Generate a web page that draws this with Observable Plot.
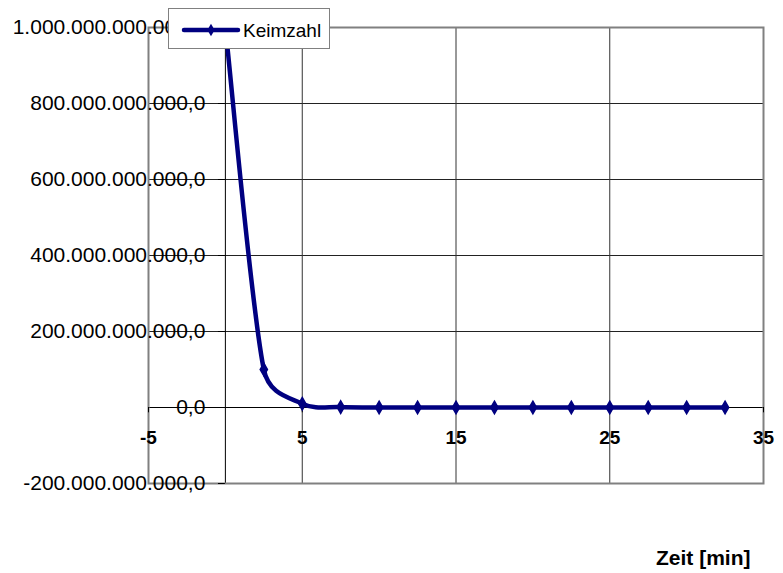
<!DOCTYPE html>
<html><head><meta charset="utf-8">
<script src="https://cdn.jsdelivr.net/npm/d3@7"></script>
<script src="https://cdn.jsdelivr.net/npm/@observablehq/plot@0.6"></script>
<style>
body{margin:0;background:#fff;font-family:Arial,"Liberation Sans",sans-serif;}
#wrap{position:relative;width:783px;height:573px;}
#legend{position:absolute;left:168px;top:8px;width:160px;height:39px;border:1px solid #808080;background:#fff;box-sizing:content-box;}
#xlabel{position:absolute;left:656px;top:546px;font-weight:bold;font-size:21px;}
</style></head>
<body><div id="wrap"><div id="chart"></div><div id="legend"></div><div id="xlabel">Zeit [min]</div></div>
<script>
const seriesName = "Keimzahl";
const zeit = [0, 2.5, 5, 7.5, 10, 12.5, 15, 17.5, 20, 22.5, 25, 27.5, 30, 32.5];
const keimzahl = [1e12, 1e11, 1e10, 1e9, 1e8, 1e7, 1e6, 1e5, 1e4, 1e3, 1e2, 1e1, 1e0, 1e-1];
const xTicks = [-5, 5, 15, 25, 35];
const xGrid = [5, 15, 25];
const yTicks = [-2e11, 0, 2e11, 4e11, 6e11, 8e11, 1e12];
const yGrid = [2e11, 4e11, 6e11, 8e11];

const data = zeit.map((t, i) => ({t, v: keimzahl[i]}));
const loc = d3.formatLocale({decimal: ",", thousands: ".", grouping: [3], currency: ["", ""], minus: "-"});
const fmt = loc.format(",.1f");
const navy = "#000080";

// Spreadsheet-style smoothed line (Bezier, tangent/6, capped at half segment)
function smoothCurve(context) {
  let pts;
  const dist = (a, b) => Math.hypot(b[0] - a[0], b[1] - a[1]);
  return {
    areaStart() {}, areaEnd() {},
    lineStart() { pts = []; },
    point(x, y) { pts.push([+x, +y]); },
    lineEnd() {
      const n = pts.length;
      if (!n) return;
      context.moveTo(pts[0][0], pts[0][1]);
      for (let i = 0; i < n - 1; i++) {
        const p0 = pts[Math.max(0, i - 1)], p1 = pts[i], p2 = pts[i + 1], p3 = pts[Math.min(n - 1, i + 2)];
        const d12 = dist(p1, p2), d02 = dist(p0, p2), d13 = dist(p1, p3);
        let f1 = 1 / 6, f2 = 1 / 6;
        if (d02 / 6 > d12 / 2) f1 = d12 / (2 * d02);
        if (d13 / 6 > d12 / 2) f2 = d12 / (2 * d13);
        const c1 = [p1[0] + (p2[0] - p0[0]) * f1, p1[1] + (p2[1] - p0[1]) * f1];
        const c2 = [p2[0] - (p3[0] - p1[0]) * f2, p2[1] - (p3[1] - p1[1]) * f2];
        context.bezierCurveTo(c1[0], c1[1], c2[0], c2[1], p2[0], p2[1]);
      }
    }
  };
}

const chart = Plot.plot({
  width: 783, height: 573,
  marginLeft: 148, marginRight: 20, marginTop: 27, marginBottom: 90,
  x: {type: "linear", domain: [-5, 35], axis: null},
  y: {type: "linear", domain: [-2e11, 1e12], axis: null},
  style: {fontFamily: "Arial, 'Liberation Sans', sans-serif", background: "#fff"},
  marks: [
    Plot.ruleY(yGrid, {stroke: "#222", strokeWidth: 1}),
    Plot.ruleX(xGrid, {stroke: "#333", strokeWidth: 1}),
    Plot.ruleX([0], {stroke: "#000", strokeWidth: 1}),
    Plot.ruleY([0], {stroke: "#000", strokeWidth: 1}),
    Plot.frame({stroke: "#808080", strokeWidth: 2}),
    Plot.ruleX(xTicks, {x: d => d, y1: 0, y2: -1.4e10, stroke: "#000"}),
    Plot.text(yTicks, {x: 0, y: d => d, text: d => fmt(d), textAnchor: "end", dx: -20, fontSize: 21, fill: "#000"}),
    Plot.ruleY(yTicks, {x1: 0, x2: -0.45, stroke: "#000"}),
    Plot.text(xTicks, {x: d => d, y: 0, text: d => String(d), dy: 30, fontSize: 19, fontWeight: "bold", fill: "#000"}),
    Plot.line(data, {x: "t", y: "v", stroke: navy, strokeWidth: 4.5, curve: smoothCurve}),
    Plot.dot(data, {x: "t", y: "v", symbol: "diamond", r: 3.8, fill: navy, stroke: navy})
  ]
});
document.getElementById("chart").appendChild(chart);

// legend
const lg = d3.select("#legend").append("svg").attr("width", 160).attr("height", 39);
lg.append("line").attr("x1", 15).attr("x2", 69).attr("y1", 21).attr("y2", 21).attr("stroke", navy).attr("stroke-width", 4.5).attr("stroke-linecap", "round");
lg.append("path").attr("d", d3.symbol(d3.symbolDiamond, 45)()).attr("transform", "translate(42,21)").attr("fill", navy);
lg.append("text").attr("x", 74).attr("y", 21).attr("dy", "0.35em").attr("font-size", 19).attr("font-family", "Arial, 'Liberation Sans', sans-serif").text(seriesName);
</script></body></html>
